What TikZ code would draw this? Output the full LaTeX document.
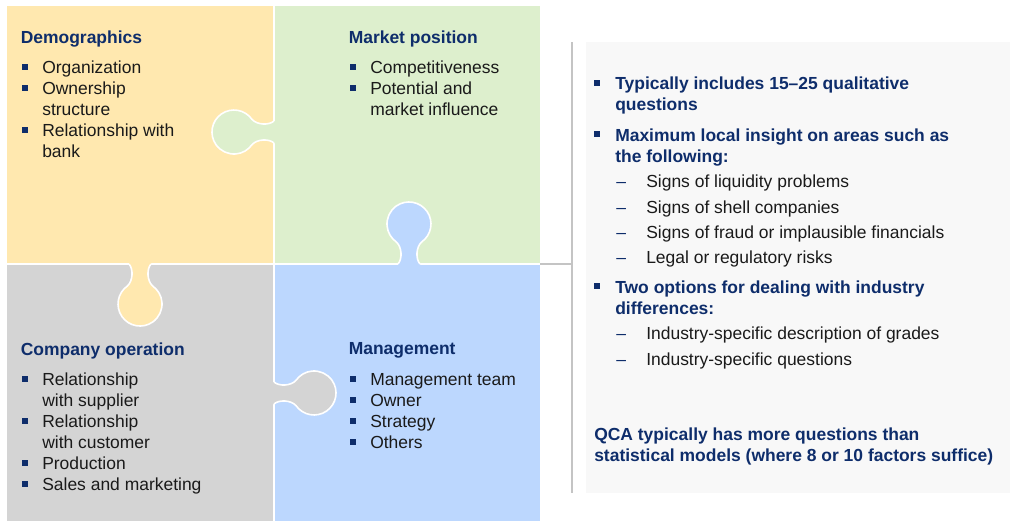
\documentclass[tikz,border=0pt]{standalone}
\usepackage{fontspec}
\setmainfont{Liberation Sans}
\usepackage{xcolor}
\usepackage{tikz}

\definecolor{navy}{HTML}{0E2D6B}
\definecolor{txt}{HTML}{1A1A1A}
\definecolor{yellowpc}{HTML}{FFE8AF}
\definecolor{greenpc}{HTML}{DDEFCD}
\definecolor{greypc}{HTML}{D4D4D4}
\definecolor{bluepc}{HTML}{BCD7FE}
\definecolor{panel}{HTML}{F8F8F8}
\definecolor{rule}{HTML}{C4C4C4}

\tikzset{
  knob/.pic={
    \fill[pic actions] (-2,11) -- (0,11) .. controls (5,6.5) and (17,7) .. (22,12.6)
      arc[start angle=145, end angle=-145, radius=22]
      .. controls (17,-7) and (5,-6.5) .. (0,-11) -- (-2,-11) -- cycle;
    \draw[white, line width=1.2pt] (0,11) .. controls (5,6.5) and (17,7) .. (22,12.6)
      arc[start angle=145, end angle=-145, radius=22]
      .. controls (17,-7) and (5,-6.5) .. (0,-11);
  }
}

\begin{document}
\begin{tikzpicture}[x=0.75pt, y=-0.75pt,
  head/.style={anchor=north west, inner sep=0pt, text=navy, font=\bfseries\fontsize{13.1}{15.75}\selectfont},
  body/.style={anchor=north west, inner sep=0pt, align=left, text=txt, font=\fontsize{13.1}{15.75}\selectfont},
  point/.style={anchor=north west, inner sep=0pt, align=left, text=navy, font=\bfseries\fontsize{13.1}{15.75}\selectfont},
  sub/.style={anchor=north west, inner sep=0pt, align=left, text=txt, font=\fontsize{13.1}{19}\selectfont},
  bul/.style={fill=navy, inner sep=0pt, minimum size=4pt}]
  \useasboundingbox (0,0) rectangle (1010,521);

  % Puzzle pieces
  \fill[yellowpc] (7,6) rectangle (274,264);
  \fill[greenpc]  (274,6) rectangle (540,264);
  \fill[greypc]   (7,264) rectangle (274,521);
  \fill[bluepc]   (274,264) rectangle (540,521);
  \draw[white, line width=1.2pt] (274,6) -- (274,521) (7,264) -- (540,264);

  % Knobs
  \pic[fill=greenpc, rotate=180] at (274,132) {knob};
  \pic[fill=bluepc, rotate=90]   at (409,264) {knob};
  \pic[fill=yellowpc, rotate=-90] at (140,264) {knob};
  \pic[fill=greypc]              at (274,393) {knob};

  % Demographics
  \node[head] (Demographics) at (20.5,30.5) {Demographics};
  \node[body] (DemoList) at (42,61) {Organization\\Ownership\\structure\\Relationship with\\bank};
  \node[bul] (DemoB1) at (25,67) {};
  \node[bul] (DemoB2) at (25,88) {};
  \node[bul] (DemoB3) at (25,130) {};

  % Market position
  \node[head] (Market) at (348.5,30.5) {Market position};
  \node[body] (MarketList) at (370,61) {Competitiveness\\Potential and\\market influence};
  \node[bul] (MarketB1) at (353,67) {};
  \node[bul] (MarketB2) at (353,88) {};

  % Company operation
  \node[head] (Operation) at (20.5,342.5) {Company operation};
  \node[body] (OperationList) at (42,373) {Relationship\\with supplier\\Relationship\\with customer\\Production\\Sales and marketing};
  \node[bul] (OperationB1) at (25,379) {};
  \node[bul] (OperationB2) at (25,421) {};
  \node[bul] (OperationB3) at (25,463) {};
  \node[bul] (OperationB4) at (25,484) {};

  % Management
  \node[head] (Management) at (348.5,342.5) {Management};
  \node[body] (ManagementList) at (370,373) {Management team\\Owner\\Strategy\\Others};
  \node[bul] (ManagementB1) at (353,379) {};
  \node[bul] (ManagementB2) at (353,400) {};
  \node[bul] (ManagementB3) at (353,421) {};
  \node[bul] (ManagementB4) at (353,442) {};

  % Side panel and its link to the puzzle
  \fill[panel] (586,42) rectangle (1010,493);
  \coordinate (SepTop) at (572,42);
  \coordinate (SepBot) at (572,493);
  \coordinate (PuzzleEdge) at (540,264);
  \draw[rule, line width=1.2pt] (SepTop) -- (SepBot);
  \draw[rule, line width=0.8pt] (PuzzleEdge) -- (PuzzleEdge -| SepTop);

  % Panel text
  \node[point] (Typically) at (615,77) {Typically includes 15--25 qualitative\\questions};
  \node[bul] (TypicallyB) at (597,83) {};
  \node[point] (Insight) at (615,129) {Maximum local insight on areas such as\\the following:};
  \node[bul] (InsightB) at (597,134) {};
  \node[sub, text=navy] (InsightDash) at (616,175) {\vphantom{Sl}--\\--\\--\\--};
  \node[sub] (InsightList) at (646,175) {Signs of liquidity problems\\Signs of shell companies\\Signs of fraud or implausible financials\\Legal or regulatory risks};
  \node[point] (Options) at (615,281) {Two options for dealing with industry\\differences:};
  \node[bul] (OptionsB) at (597,286) {};
  \node[sub, text=navy] (OptionsDash) at (616,327) {\vphantom{Sl}--\\--};
  \node[sub] (OptionsList) at (646,327) {Industry-specific description of grades\\Industry-specific questions};
  \node[point] (QCA) at (594,428) {QCA typically has more questions than\\statistical models (where 8 or 10 factors suffice)};
\end{tikzpicture}
\end{document}
